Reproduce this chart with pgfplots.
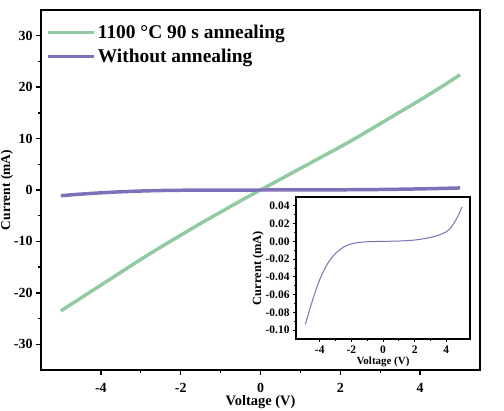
\documentclass[border=0pt]{standalone}
\usepackage{pgfplots}
\pgfplotsset{compat=1.18}
\usepackage{fontspec}
\setmainfont{Liberation Serif}
\definecolor{mgreen}{RGB}{146,202,164}
\definecolor{mpurple}{RGB}{128,112,186}
\begin{document}
\begin{tikzpicture}
\useasboundingbox (0,0) rectangle (504bp,411bp);
\begin{axis}[
  at={(41bp,41bp)}, anchor=south west,
  width=439bp, height=360bp, scale only axis,
  xmin=-5.5, xmax=5.5, ymin=-35, ymax=35,
  xtick={-4,-2,0,2,4}, ytick={-30,-20,-10,0,10,20,30},
  minor x tick num=1, minor y tick num=1,
  xtick pos=bottom, ytick pos=left,
  tick align=outside,
  major tick length=5bp, minor tick length=3bp,
  every tick/.style={black, line width=1.4pt},
  axis line style={line width=1.6pt},
  /pgf/number format/assume math mode=true,
  ticklabel style={font=\fontsize{14}{16}\selectfont\bfseries},
  xticklabel style={yshift=-5bp},
  xlabel={Voltage (V)}, ylabel={Current (mA)},
  xlabel style={font=\fontsize{14.5}{16}\selectfont\bfseries, yshift=4bp},
  ylabel style={font=\fontsize{13.5}{16}\selectfont\bfseries, yshift=-6bp},
  legend style={at={(0.005,0.97)}, anchor=north west, draw=none, fill=none,
    font=\fontsize{19.5}{22}\selectfont\bfseries, row sep=5bp,
    /tikz/every even column/.append style={column sep=2bp}},
  legend cell align=left,
  legend image code/.code={\draw[#1, line width=3.5pt] (0bp,0bp) -- (46bp,0bp);},
]
\addplot[mgreen, line width=3.5pt, smooth] coordinates {
(-5,-23.5) (-4.5,-21.0) (-4,-18.5) (-3.5,-16.0) (-3,-13.5) (-2.5,-11.1) (-2,-8.8) (-1.5,-6.5) (-1,-4.3) (-0.5,-2.1) (0,0)
(0.5,2.1) (1,4.2) (1.5,6.3) (2,8.4) (2.5,10.6) (3,12.9) (3.5,15.2) (4,17.5) (4.5,19.9) (5,22.4)};
\addlegendentry{1100 °C 90 s annealing}
\addplot[mpurple, line width=3.5pt, smooth] coordinates {
(-5,-1.1) (-4.5,-0.8) (-4,-0.55) (-3.5,-0.35) (-3,-0.2) (-2.5,-0.1) (-2,-0.05) (-1,-0.01) (0,0) (1,0.01) (2,0.04) (3,0.1) (3.5,0.15) (4,0.22) (4.5,0.3) (5,0.4)};
\addlegendentry{Without annealing}
\end{axis}
\begin{axis}[
  at={(296bp,72bp)}, anchor=south west,
  width=174bp, height=142bp, scale only axis,
  axis background/.style={fill=white},
  xmin=-5.5, xmax=5.5, ymin=-0.11, ymax=0.05,
  xtick={-4,-2,0,2,4}, ytick={-0.10,-0.08,-0.06,-0.04,-0.02,0,0.02,0.04},
  minor x tick num=1, minor y tick num=1,
  xtick pos=bottom, ytick pos=left,
  tick align=outside,
  major tick length=3bp, minor tick length=2bp,
  every tick/.style={black, line width=0.9pt},
  axis line style={line width=1.2pt},
  /pgf/number format/assume math mode=true,
  yticklabel style={/pgf/number format/fixed, /pgf/number format/fixed zerofill, /pgf/number format/precision=2},
  scaled y ticks=false,
  ticklabel style={font=\fontsize{11.5}{13}\selectfont\bfseries},
  xlabel={Voltage (V)}, ylabel={Current (mA)},
  xlabel style={font=\fontsize{11}{12}\selectfont\bfseries, yshift=3bp},
  ylabel style={font=\fontsize{12.5}{14}\selectfont\bfseries, yshift=-5bp},
]
\addplot[mpurple, line width=1pt, smooth, tension=0.55] coordinates {
(-4.9,-0.093) (-4.5,-0.069) (-4,-0.043) (-3.5,-0.025) (-3,-0.0135) (-2.5,-0.0065) (-2,-0.0028) (-1.5,-0.0012) (-1,-0.0004) (0,0) (1,0.0004) (2,0.0015) (2.5,0.0028) (3,0.0045) (3.5,0.0070) (4,0.0108) (4.25,0.0145) (4.5,0.021) (4.75,0.029) (5,0.039)};
\end{axis}
\end{tikzpicture}
\end{document}
